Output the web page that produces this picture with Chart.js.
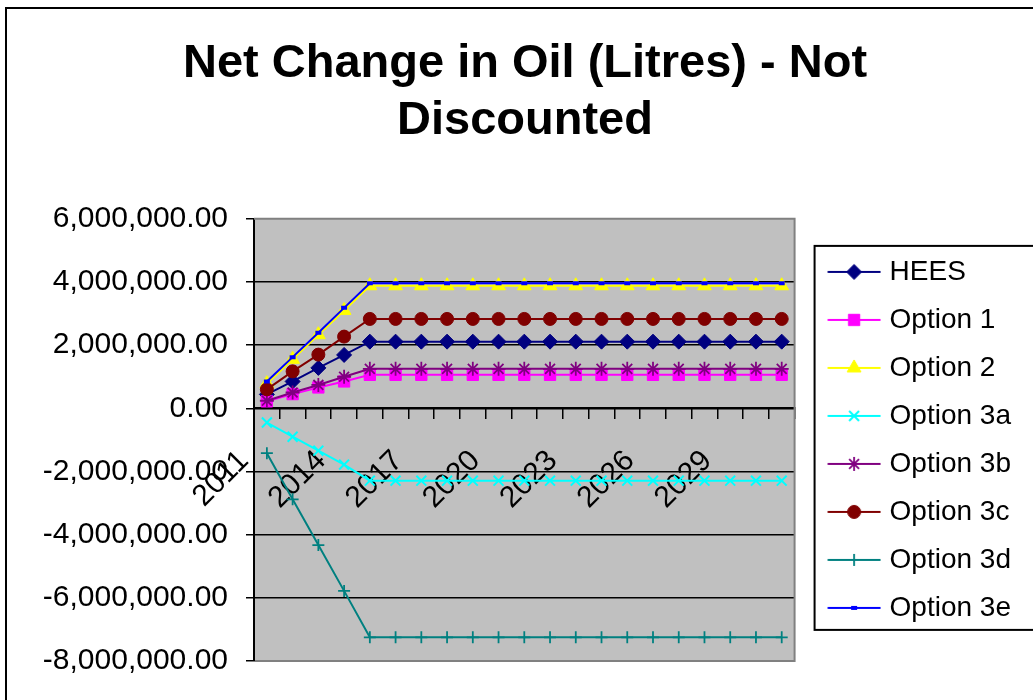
<!DOCTYPE html>
<html>
<head>
<meta charset="utf-8">
<title>Net Change in Oil (Litres) - Not Discounted</title>
<script src="https://cdn.jsdelivr.net/npm/chart.js@4.4.1/dist/chart.umd.min.js"></script>
<style>
  html, body { margin: 0; padding: 0; background: #ffffff; }
  canvas { display: block; }
</style>
</head>
<body>
<canvas id="oilChart" width="1033" height="700"></canvas>
<script>
// Years on the category axis
const years = ['2011', '2012', '2013', '2014', '2015', '2016', '2017', '2018', '2019', '2020',
               '2021', '2022', '2023', '2024', '2025', '2026', '2027', '2028', '2029', '2030', '2031'];

// Net change in oil per option, litres
const hees = [440000, 850000, 1280000, 1690000, 2110000, 2110000, 2110000, 2110000, 2110000, 2110000,
              2110000, 2110000, 2110000, 2110000, 2110000, 2110000, 2110000, 2110000, 2110000, 2110000, 2110000];
const option1 = [220000, 450000, 660000, 850000, 1060000, 1060000, 1060000, 1060000, 1060000, 1060000,
                 1060000, 1060000, 1060000, 1060000, 1060000, 1060000, 1060000, 1060000, 1060000, 1060000, 1060000];
const option2 = [780000, 1550000, 2330000, 3100000, 3880000, 3880000, 3880000, 3880000, 3880000, 3880000,
                 3880000, 3880000, 3880000, 3880000, 3880000, 3880000, 3880000, 3880000, 3880000, 3880000, 3880000];
const option3a = [-450000, -900000, -1340000, -1780000, -2290000, -2290000, -2290000, -2290000, -2290000, -2290000,
                  -2290000, -2290000, -2290000, -2290000, -2290000, -2290000, -2290000, -2290000, -2290000, -2290000, -2290000];
const option3b = [240000, 500000, 740000, 1000000, 1250000, 1250000, 1250000, 1250000, 1250000, 1250000,
                  1250000, 1250000, 1250000, 1250000, 1250000, 1250000, 1250000, 1250000, 1250000, 1250000, 1250000];
const option3c = [600000, 1170000, 1700000, 2270000, 2830000, 2830000, 2830000, 2830000, 2830000, 2830000,
                  2830000, 2830000, 2830000, 2830000, 2830000, 2830000, 2830000, 2830000, 2830000, 2830000, 2830000];
const option3d = [-1420000, -2880000, -4330000, -5780000, -7250000, -7250000, -7250000, -7250000, -7250000, -7250000,
                  -7250000, -7250000, -7250000, -7250000, -7250000, -7250000, -7250000, -7250000, -7250000, -7250000, -7250000];
const option3e = [850000, 1620000, 2390000, 3180000, 3960000, 3960000, 3960000, 3960000, 3960000, 3960000,
                  3960000, 3960000, 3960000, 3960000, 3960000, 3960000, 3960000, 3960000, 3960000, 3960000, 3960000];

const seriesNames = ['HEES', 'Option 1', 'Option 2', 'Option 3a', 'Option 3b', 'Option 3c', 'Option 3d', 'Option 3e'];
const seriesValues = [hees, option1, option2, option3a, option3b, option3c, option3d, option3e];

// Value-axis tick positions
const yTickValues = [-8000000, -6000000, -4000000, -2000000, 0, 2000000, 4000000, 6000000];

// Line colour and marker for each series
const seriesStyles = [
  { color: '#000080', fill: '#000080', marker: 'rectRot',  r: 7.5, bw: 1 },
  { color: '#FF00FF', fill: '#FF00FF', marker: 'rect',     r: 8,   bw: 1 },
  { color: '#FFFF00', fill: '#FFFF00', marker: 'triangle', r: 8,   bw: 1 },
  { color: '#00FFFF', fill: '#00FFFF', marker: 'crossRot', r: 7,   bw: 2 },
  { color: '#800080', fill: '#800080', marker: 'star',     r: 7,   bw: 1.8 },
  { color: '#800000', fill: '#800000', marker: 'circle',   r: 6.5, bw: 1 },
  { color: '#008080', fill: '#008080', marker: 'cross',    r: 6,   bw: 1.8 },
  { color: '#0000FF', fill: '#0000FF', marker: 'line',     r: 3,   bw: 4 }
];

const FONT = "'Liberation Sans', Arial, sans-serif";

// Legend swatch: a short line with the series marker on it
function legendIcon(st) {
  const c = document.createElement('canvas');
  c.width = 72; c.height = 30;
  const g = c.getContext('2d');
  g.strokeStyle = st.color; g.lineWidth = 2;
  g.beginPath(); g.moveTo(18.5, 15); g.lineTo(71.5, 15); g.stroke();
  g.fillStyle = st.fill; g.strokeStyle = st.color; g.lineWidth = st.bw;
  Chart.helpers.drawPoint(g, { pointStyle: st.marker, radius: st.r, borderWidth: st.bw, rotation: 0 }, 45, 15);
  return c;
}
const legendIcons = seriesStyles.map(legendIcon);

const datasets = seriesNames.map((name, i) => {
  const st = seriesStyles[i];
  return {
    label: name,
    data: seriesValues[i],
    borderColor: st.color,
    backgroundColor: st.fill,
    borderWidth: 2,
    fill: false,
    tension: 0,
    pointStyle: st.marker,
    pointRadius: st.r,
    pointBackgroundColor: st.fill,
    pointBorderColor: st.color,
    pointBorderWidth: st.bw,
    order: seriesNames.length - i   // later series are painted on top
  };
});

// Page background, outer frame, plot area fill and borders, legend box
const chartFrame = {
  id: 'chartFrame',
  beforeDraw(chart) {
    const { ctx, chartArea: a } = chart;
    ctx.save();
    ctx.fillStyle = '#ffffff';
    ctx.fillRect(0, 0, chart.width, chart.height);
    ctx.strokeStyle = '#000000';
    ctx.lineWidth = 2;
    ctx.strokeRect(6, 8, chart.width + 40, chart.height + 40);
    ctx.fillStyle = '#C0C0C0';
    ctx.fillRect(a.left, a.top, a.right - a.left, a.bottom - a.top);
    ctx.restore();
  },
  beforeDatasetsDraw(chart) {
    const { ctx, chartArea: a } = chart;
    ctx.save();
    ctx.strokeStyle = '#808080';
    ctx.lineWidth = 2;
    ctx.beginPath();
    ctx.moveTo(a.left, a.top);
    ctx.lineTo(a.right, a.top);
    ctx.lineTo(a.right, a.bottom);
    ctx.lineTo(a.left + 1, a.bottom);
    ctx.stroke();
    ctx.restore();
  },
  afterDraw(chart) {
    const lg = chart.legend;
    if (!lg || !lg.legendHitBoxes || !lg.legendHitBoxes.length) return;
    const hb = lg.legendHitBoxes;
    const first = hb[0], last = hb[hb.length - 1];
    const top = first.top - 12;
    const bottom = last.top + last.height + 8;
    const { ctx } = chart;
    ctx.save();
    ctx.strokeStyle = '#000000';
    ctx.lineWidth = 2;
    ctx.strokeRect(lg.left + 20, top, 400, bottom - top);
    ctx.restore();
  }
};

new Chart(document.getElementById('oilChart'), {
  type: 'line',
  data: { labels: years, datasets },
  plugins: [chartFrame],
  options: {
    responsive: false,
    animation: false,
    devicePixelRatio: 1,
    events: [],
    layout: { padding: { left: 29, right: 12, top: 0, bottom: 39 } },
    scales: {
      x: {
        type: 'category',
        position: { y: 0 },
        offset: true,
        grid: {
          display: true, offset: true, drawOnChartArea: false, drawTicks: true,
          tickLength: 10, color: '#000000', lineWidth: 1.5
        },
        border: { display: true, color: '#000000', width: 2 },
        ticks: {
          autoSkip: false, minRotation: 45, maxRotation: 45,
          padding: 25, labelOffset: -23, color: '#000000',
          font: { family: FONT, size: 30 },
          callback: (v, i) => (i % 3 === 0 ? years[i] : '')
        }
      },
      y: {
        type: 'linear',
        position: 'left',
        min: yTickValues[0],
        max: yTickValues[yTickValues.length - 1],
        afterBuildTicks: s => { s.ticks = yTickValues.map(v => ({ value: v })); },
        afterFit: s => { s.width = 225; },
        grid: {
          color: c => (c.tick && (c.tick.value === yTickValues[0] || c.tick.value === yTickValues[yTickValues.length - 1]))
            ? 'rgba(0,0,0,0)' : '#000000',
          tickColor: '#000000', tickLength: 8, lineWidth: 1.5, drawTicks: true
        },
        border: { display: true, color: '#000000', width: 2 },
        ticks: {
          padding: 18, color: '#000000',
          font: { family: FONT, size: 30 },
          callback: v => Number(v).toLocaleString('en-US', { minimumFractionDigits: 2, maximumFractionDigits: 2 })
        }
      }
    },
    plugins: {
      tooltip: { enabled: false },
      title: {
        display: true,
        position: 'top',
        text: ['Net Change in Oil (Litres) - Not', 'Discounted'],
        color: '#000000',
        font: { family: FONT, size: 47, weight: 'bold', lineHeight: 1.2 },
        padding: { top: 36, bottom: 70 }
      },
      legend: {
        display: true,
        position: 'right',
        align: 'center',
        fullSize: false,
        labels: {
          usePointStyle: true,
          pointStyleWidth: 61,
          padding: 20,
          color: '#000000',
          font: { family: FONT, size: 28 },
          generateLabels: chart => chart.data.datasets.map((ds, i) => ({
            text: ds.label,
            datasetIndex: i,
            pointStyle: legendIcons[i],
            hidden: false,
            fillStyle: 'rgba(0,0,0,0)',
            strokeStyle: 'rgba(0,0,0,0)',
            lineWidth: 0,
            fontColor: '#000000'
          }))
        }
      }
    }
  }
});
</script>
</body>
</html>
